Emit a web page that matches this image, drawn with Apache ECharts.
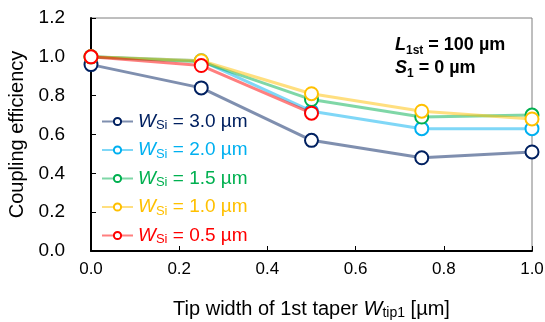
<!DOCTYPE html>
<html>
<head>
<meta charset="utf-8">
<script src="https://cdn.jsdelivr.net/npm/echarts@6/dist/echarts.min.js"></script>
<style>html,body{margin:0;padding:0;background:#fff}#c{width:545px;height:322px}</style>
</head>
<body>
<div id="c"></div>
<script>
const xValues = [0, 0.25, 0.5, 0.75, 1.0];
const widthLabels = ['3.0', '2.0', '1.5', '1.0', '0.5'];
const w30 = [0.96, 0.84, 0.57, 0.48, 0.51];
const w20 = [1.00, 0.98, 0.72, 0.63, 0.63];
const w15 = [1.00, 0.975, 0.78, 0.69, 0.70];
const w10 = [1.00, 0.98, 0.81, 0.72, 0.68];
const w05 = [1.00, 0.955, 0.71];
const seriesValues = [w30, w20, w15, w10, w05];
const colors = ['#002060', '#00B0F0', '#00B050', '#FFC000', '#FF0000'];
const yTicks = [0, 0.2, 0.4, 0.6, 0.8, 1.0, 1.2];

const FONT = 'Liberation Sans, Arial, sans-serif';
const names = widthLabels.map(w => 'WSi = ' + w + ' µm');

const series = seriesValues.map((vals, i) => ({
  name: names[i],
  type: 'line',
  data: vals.map((v, j) => [xValues[j], v]),
  symbol: 'emptyCircle',
  symbolSize: 13,
  z: 2 + i,
  lineStyle: { color: colors[i], width: 3, opacity: 0.5 },
  itemStyle: { color: colors[i], borderColor: colors[i], borderWidth: 2.5 },
  emphasis: { disabled: true },
  animation: false,
  clip: false
}));

const chart = echarts.init(document.getElementById('c'), null, { renderer: 'canvas' });
chart.setOption({
  animation: false,
  grid: { left: 91, right: 13, top: 18, bottom: 71, show: true, borderColor: '#7f7f7f', borderWidth: 1, containLabel: false, outerBoundsMode: 'none' },
  xAxis: {
    type: 'value', min: 0, max: 1, interval: 0.2,
    axisLine: { lineStyle: { color: '#000', width: 2 } },
    axisTick: { inside: true, length: 5, lineStyle: { color: '#000', width: 1 } },
    splitLine: { show: false },
    axisLabel: { fontFamily: FONT, fontSize: 17, color: '#000', margin: 10, formatter: v => v.toFixed(1) },
    name: '{n|Tip width of 1st taper }{i|W}{s|tip1}{n| [µm]}',
    nameLocation: 'middle', nameGap: 47,
    nameTextStyle: {
      rich: {
        n: { fontFamily: FONT, fontSize: 20, color: '#000' },
        i: { fontFamily: FONT, fontSize: 20, fontStyle: 'italic', color: '#000' },
        s: { fontFamily: FONT, fontSize: 14, color: '#000', verticalAlign: 'bottom', padding: [8, 0, 0, 0] }
      }
    }
  },
  yAxis: {
    type: 'value', min: 0, max: 1.2, interval: 0.2,
    axisLine: { show: true, lineStyle: { color: '#000', width: 2 } },
    axisTick: { show: true, inside: true, length: 5, lineStyle: { color: '#000', width: 1 } },
    splitLine: { show: false },
    axisLabel: { fontFamily: FONT, fontSize: 19, color: '#000', margin: 26, formatter: v => v.toFixed(1) },
    name: 'Coupling efficiency',
    nameLocation: 'middle', nameGap: 58,
    nameTextStyle: { fontFamily: FONT, fontSize: 20, color: '#000' }
  },
  legend: {
    orient: 'vertical', left: 96, top: 107,
    itemWidth: 31, itemHeight: 9, itemGap: 8.5,
    data: names.map((n, i) => ({ name: n, textStyle: { color: colors[i] } })),
    formatter: n => {
      const w = n.replace('WSi = ', '');
      return '{i|W}{s|Si}{n| = ' + w + '}';
    },
    textStyle: {
      fontFamily: FONT, fontSize: 19,
      rich: {
        i: { fontFamily: FONT, fontSize: 19, fontStyle: 'italic' },
        s: { fontFamily: FONT, fontSize: 13, verticalAlign: 'bottom', padding: [8, 0, 0, 0] },
        n: { fontFamily: FONT, fontSize: 19 }
      }
    },
    selectedMode: false
  },
  graphic: [{
    type: 'text', left: 395, top: 36, z: 100,
    style: {
      text: '{i|L}{s|1st}{b| = 100 µm}\n{i|S}{s|1}{b| = 0 µm}',
      rich: {
        i: { fontFamily: FONT, fontSize: 18, fontWeight: 'bold', fontStyle: 'italic', fill: '#000', lineHeight: 23 },
        s: { fontFamily: FONT, fontSize: 12, fontWeight: 'bold', fill: '#000', verticalAlign: 'bottom', padding: [8, 0, 0, 0], lineHeight: 23 },
        b: { fontFamily: FONT, fontSize: 18, fontWeight: 'bold', fill: '#000', lineHeight: 23 }
      }
    }
  }],
  series: series
});
</script>
</body>
</html>
